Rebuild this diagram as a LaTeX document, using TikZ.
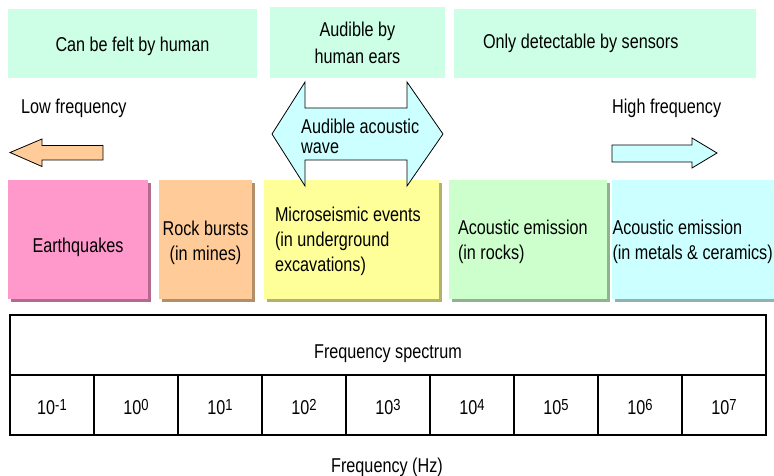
\documentclass[tikz,border=0pt]{standalone}
\usepackage{fontspec}
\setmainfont[FakeStretch=0.81]{Liberation Sans}
\usetikzlibrary{shadows}
\definecolor{mintfill}{RGB}{204,255,229}
\definecolor{pinkfill}{RGB}{255,153,204}
\definecolor{orangefill}{RGB}{255,204,153}
\definecolor{yellowfill}{RGB}{255,255,153}
\definecolor{greenfill}{RGB}{204,255,204}
\definecolor{cyanfill}{RGB}{204,255,255}
\tikzset{
  every node/.append style={execute at begin node={\spaceskip=0pt\xspaceskip=0pt\relax}},
  band/.style={fill=mintfill, inner sep=0pt, minimum height=69pt},
  card/.style={fill=#1, inner sep=0pt, minimum height=119pt, text height=19pt,
    general shadow={fill=#1!70!black, shadow xshift=3pt, shadow yshift=-3pt}},
  cell/.style={draw, line width=1.2pt, inner sep=0pt, minimum width=84pt,
    minimum height=60pt, text height=18pt, text depth=0pt},
  blockarrow/.style={draw, line width=0.8pt, line join=miter},
  caption/.style={inner sep=0pt}
}
\newcommand{\tenpow}[1]{10\raisebox{3.5pt}{\fontsize{16}{16}\selectfont #1}}

\begin{document}
\begin{tikzpicture}[x=1pt, y=-1pt, font=\fontsize{20}{25}\selectfont]
\useasboundingbox (0,0) rectangle (774,475);

\node[band, minimum width=249pt, text height=21pt] (felt) at (132.5,43.5) {Can be felt by human};
\node[band, minimum width=175pt, minimum height=71pt, align=center] (hear) at (357.5,42.5) {Audible by\\[2pt] human ears};
\node[band, text width=244pt, inner xsep=29pt, align=left] (sensor) at (605,43.5) {Only detectable by sensors};

\node[caption, anchor=base west] (low) at (21,113) {Low frequency};
\node[caption, anchor=base west] (high) at (612,113) {High frequency};

\draw[blockarrow, fill=orangefill] (103,145.5) -- (42,145.5) -- (42,139) -- (10,152.5)
  -- (42,166.5) -- (42,160) -- (103,160) -- cycle;
\draw[blockarrow, fill=cyanfill] (612,145) -- (692,145) -- (692,138) -- (717,153)
  -- (692,168) -- (692,162) -- (612,162) -- cycle;

\node[card=pinkfill, minimum width=140pt, text height=31pt] (quake) at (78,239.5) {Earthquakes};
\node[card=orangefill, text width=93pt, text height=22pt, align=center] (burst) at (205.5,239.5) {Rock bursts\\(in mines)};
\node[card=yellowfill, text width=153pt, inner xsep=11pt, align=left] (micro) at (351.5,239.5) {Microseismic events\\(in underground\\excavations)};
\node[card=greenfill, text width=140pt, inner xsep=9pt, align=left] (rocks) at (528,239.5) {Acoustic emission\\(in rocks)};
\node[card=cyanfill, text width=161pt, inner xsep=0.5pt, align=left] (metals) at (693,239.5) {Acoustic emission\\\mbox{(in metals \& ceramics)}};

\draw[blockarrow, fill=cyanfill] (272,134) -- (305,82) -- (305,108) -- (407,108) -- (407,82)
  -- (443,134) -- (407,186) -- (407,160) -- (305,160) -- (305,186) -- cycle;
\node[caption, anchor=north west, align=left, font=\fontsize{20}{20}\selectfont] (wave) at (301,118.4) {Audible acoustic\\wave};

\node[draw, line width=1.2pt, inner sep=0pt, minimum width=756pt, minimum height=60pt,
  text height=32pt] (spectrum) at (388,345) {Frequency spectrum};
\foreach \e [count=\i from 0] in {-1,0,1,2,3,4,5,6,7}
  \node[cell] (cell\i) at (52+84*\i,405) {\tenpow{\e}};
\node[caption, anchor=base] (axis) at (387,472) {Frequency (Hz)};
\end{tikzpicture}
\end{document}
